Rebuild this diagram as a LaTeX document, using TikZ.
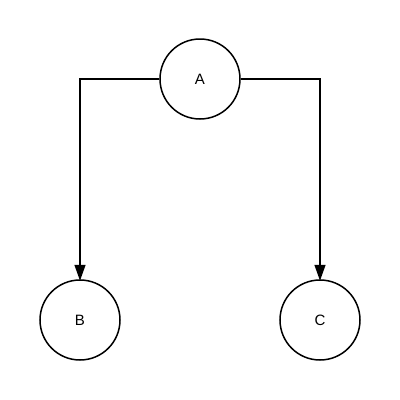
\documentclass[tikz,border=0pt]{standalone}
\usepackage{fontspec}
\setmainfont{Liberation Sans}
\usetikzlibrary{arrows.meta}
\begin{document}
\begin{tikzpicture}[x=1pt,y=-1pt,
  circ/.style={circle,draw,line width=1.5pt,minimum size=80pt,inner sep=0pt,font=\fontsize{15pt}{17pt}\selectfont},
  conn/.style={line width=1.5pt,-{Triangle[length=16pt,width=11pt]}}]
\useasboundingbox (0,0) rectangle (400,400);
\node[circ] (a) at (200,79) {A};
\node[circ] (b) at (80,320) {B};
\node[circ] (c) at (320,320) {C};
\draw[conn] (a.west) -| ([yshift=-1.5pt]b.north);
\draw[conn] (a.east) -| ([yshift=-1.5pt]c.north);
\end{tikzpicture}
\end{document}
